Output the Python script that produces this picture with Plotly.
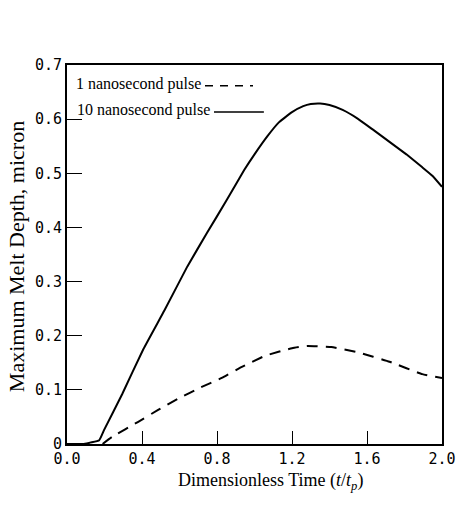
import plotly.graph_objects as go

# Data
t_10ns = [0.0, 0.09, 0.172, 0.198, 0.294, 0.407, 0.52, 0.642, 0.747, 0.851, 0.945, 1.00,
          1.07, 1.13, 1.20, 1.26, 1.30, 1.35, 1.40, 1.47, 1.55, 1.63, 1.72, 1.81, 1.895,
          1.95, 2.00]
d_10ns = [0.0, 0.0, 0.007, 0.026, 0.092, 0.175, 0.247, 0.328, 0.39, 0.45, 0.506, 0.535,
          0.569, 0.594, 0.613, 0.624, 0.628, 0.629, 0.626, 0.617, 0.601, 0.581, 0.558,
          0.535, 0.511, 0.495, 0.475]

t_1ns = [0.19, 0.24, 0.38, 0.486, 0.60, 0.71, 0.825, 0.93, 1.057, 1.20, 1.28, 1.41,
         1.545, 1.72, 1.895, 2.00]
d_1ns = [0.0, 0.013, 0.041, 0.063, 0.085, 0.104, 0.122, 0.142, 0.163, 0.177, 0.181,
         0.179, 0.17, 0.152, 0.129, 0.122]

x_tick_vals = [0.0, 0.4, 0.8, 1.2, 1.6, 2.0]
x_tick_text = ["0.0", "0.4", "0.8", "1.2", "1.6", "2.0"]
y_tick_vals = [0.0, 0.1, 0.2, 0.3, 0.4, 0.5, 0.6, 0.7]
y_tick_text = ["0", "0.1", "0.2", "0.3", "0.4", "0.5", "0.6", "0.7"]

series_names = ["1 nanosecond pulse", "10 nanosecond pulse"]

fig = go.Figure()
fig.add_trace(go.Scatter(x=t_10ns, y=d_10ns, mode="lines", name=series_names[1],
                         line=dict(color="black", width=2, shape="spline", smoothing=0.3),
                         showlegend=False))
fig.add_trace(go.Scatter(x=t_1ns, y=d_1ns, mode="lines", name=series_names[0],
                         line=dict(color="black", width=2, dash="11px,8px",
                                   shape="spline", smoothing=0.3),
                         showlegend=False))

tick_font = dict(family="DejaVu Sans Mono", size=15, color="black")
serif = "Liberation Serif"

fig.update_xaxes(range=[0, 2], tickvals=x_tick_vals, ticktext=x_tick_text,
                 ticks="inside", ticklen=13, tickwidth=1.2, tickcolor="black",
                 showline=True, linecolor="black", linewidth=2, mirror=True,
                 showgrid=False, zeroline=False, tickfont=tick_font)
fig.update_yaxes(range=[0, 0.7], tickvals=y_tick_vals, ticktext=y_tick_text,
                 ticks="inside", ticklen=15, tickwidth=1.2, tickcolor="black",
                 showline=True, linecolor="black", linewidth=2, mirror=True,
                 showgrid=False, zeroline=False, tickfont=tick_font)

annotations = [
    dict(text="Dimensionless Time (<i>t</i>/<i>t</i><sub><i>p</i></sub>)",
         xref="paper", yref="paper", x=0.29, y=-0.10, xanchor="left", yanchor="middle",
         showarrow=False, font=dict(family=serif, size=18, color="black")),
    dict(text="Maximum Melt Depth, micron", textangle=-90,
         xref="paper", yref="paper", x=-0.136, y=0.493, xanchor="center", yanchor="middle",
         showarrow=False, font=dict(family=serif, size=22, color="black")),
    dict(text=series_names[0], xref="paper", yref="paper", x=0.018, y=0.950,
         xanchor="left", yanchor="middle", showarrow=False,
         font=dict(family=serif, size=16, color="black")),
    dict(text=series_names[1], xref="paper", yref="paper", x=0.022, y=0.881,
         xanchor="left", yanchor="middle", showarrow=False,
         font=dict(family=serif, size=16, color="black")),
]
shapes = [
    dict(type="line", xref="paper", yref="paper", x0=0.368, x1=0.496, y0=0.945, y1=0.945,
         line=dict(color="black", width=1.5, dash="8px,7px")),
    dict(type="line", xref="paper", yref="paper", x0=0.392, x1=0.525, y0=0.876, y1=0.876,
         line=dict(color="black", width=1.5)),
]

fig.update_layout(width=468, height=506, margin=dict(l=67, r=18, t=65, b=62),
                  paper_bgcolor="white", plot_bgcolor="white",
                  annotations=annotations, shapes=shapes, showlegend=False)

fig.write_html("out.html")
